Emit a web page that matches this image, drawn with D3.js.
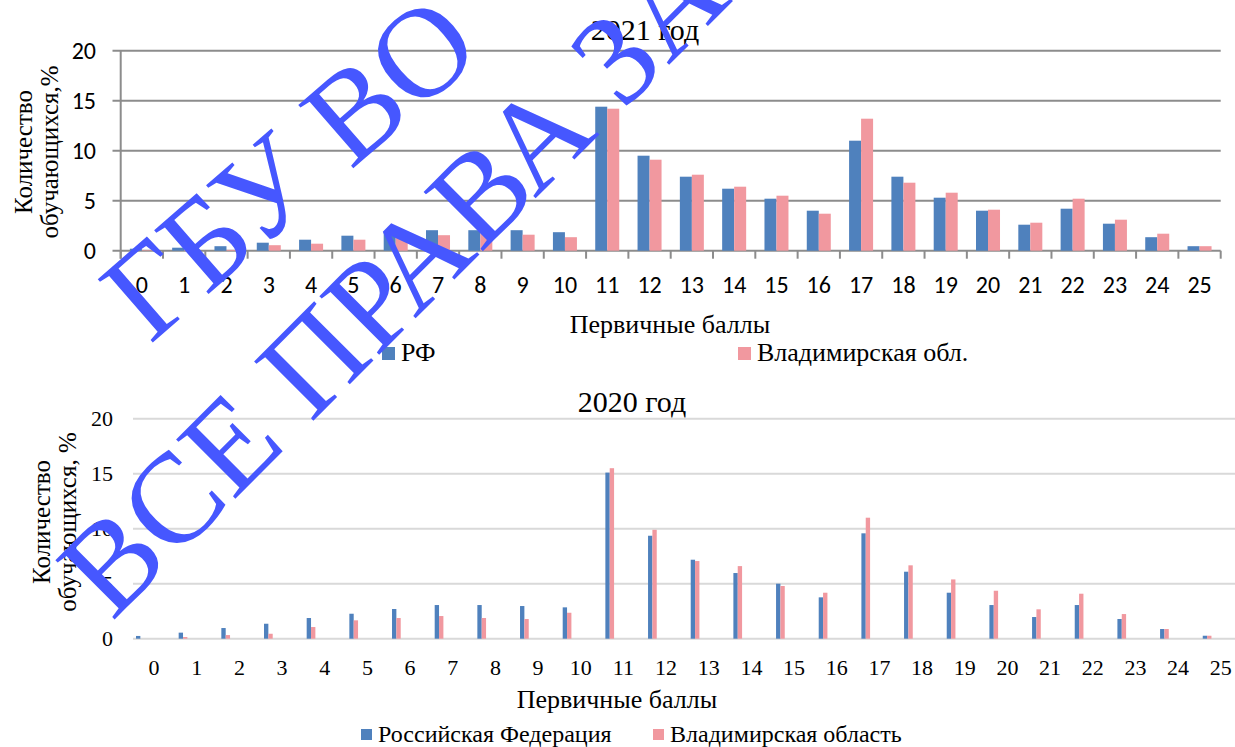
<!DOCTYPE html>
<html><head><meta charset="utf-8">
<script src="https://cdn.jsdelivr.net/npm/d3@7"></script>
<style>
html,body{margin:0;padding:0;background:#fff;}
svg{display:block;}
</style></head>
<body>
<script>
const scores = ["0","1","2","3","4","5","6","7","8","9","10","11","12","13","14","15","16","17","18","19","20","21","22","23","24","25"];
const yTicks = [0,5,10,15,20];
const rf2021 = [0.2,0.3,0.45,0.8,1.1,1.5,1.8,2.05,2.05,2.05,1.85,14.4,9.5,7.4,6.2,5.2,4.0,11.0,7.4,5.3,4.0,2.6,4.2,2.7,1.35,0.45];
const vl2021 = [0.05,0.05,0.08,0.55,0.7,1.1,1.5,1.55,1.75,1.6,1.35,14.2,9.1,7.6,6.4,5.5,3.7,13.2,6.8,5.8,4.1,2.8,5.2,3.1,1.7,0.45];
const rf2020 = [0.25,0.55,0.97,1.36,1.88,2.27,2.7,3.06,3.06,2.97,2.85,15.1,9.36,7.18,5.97,5.0,3.76,9.58,6.09,4.18,3.06,1.97,3.06,1.79,0.88,0.27];
const vl2020 = [0,0.15,0.33,0.45,1.06,1.67,1.88,2.06,1.88,1.79,2.36,15.5,9.9,7.06,6.6,4.79,4.18,11.0,6.67,5.39,4.36,2.67,4.09,2.24,0.88,0.27];
const titles = ["2021 год","2020 год"];
const legend2021 = ["РФ","Владимирская обл."];
const legend2020 = ["Российская Федерация","Владимирская область"];
const xTitle = "Первичные баллы";
const yTitle2021 = ["Количество","обучающихся,%"];
const yTitle2020 = ["Количество","обучающихся, %"];
const watermark = ["ГБУ ВО","ВСЕ ПРАВА ЗАЩИЩЕНЫ"];

const BLUE = "#4F81BD", PINK = "#F1989F";
const SERIF = "Liberation Serif";
const SANS = "Carlito";

const W = 1235, H = 747;
const svg = d3.select("body").append("svg").attr("width",W).attr("height",H);
svg.append("rect").attr("width",W).attr("height",H).attr("fill","#fff");

function txt(sel, fam, size){ return sel.style("font-family",fam).style("font-size",size+"px"); }

/* ---------- Chart 1: 2021 ---------- */
{
  const g = svg.append("g");
  const x = d3.scaleBand().domain(scores).range([120.7,1220.7]).padding(0);
  const y = d3.scaleLinear().domain([0,20]).range([250.7,50.7]);
  const inner = d3.scaleBand().domain(["rf","vl"]).range([-12,12]);
  g.append("g").selectAll("line").data(yTicks).join("line")
    .attr("x1",112.5).attr("x2",1220.7)
    .attr("y1",d=>y(d)).attr("y2",d=>y(d))
    .attr("stroke","#8c8c8c").attr("stroke-width",2);
  g.append("line").attr("x1",120.7).attr("x2",120.7).attr("y1",y(20)).attr("y2",y(0)+8)
    .attr("stroke","#8c8c8c").attr("stroke-width",2);
  const bounds = scores.map(s=>x(s)).concat([x(scores[scores.length-1])+x.bandwidth()]);
  g.append("g").selectAll("line").data(bounds).join("line")
    .attr("x1",d=>d).attr("x2",d=>d).attr("y1",y(0)).attr("y2",y(0)+8)
    .attr("stroke","#8c8c8c").attr("stroke-width",2);
  const series = [{k:"rf",v:rf2021,c:BLUE},{k:"vl",v:vl2021,c:PINK}];
  series.forEach(s=>{
    g.append("g").selectAll("rect").data(s.v).join("rect")
      .attr("x",(d,i)=>x(scores[i])+x.bandwidth()/2+inner(s.k))
      .attr("width",inner.bandwidth())
      .attr("y",d=>y(d)).attr("height",d=>y(0)-y(d))
      .attr("fill",s.c);
  });
  txt(g.append("g").selectAll("text").data(yTicks).join("text"), SANS, 24)
    .attr("x",96).attr("y",d=>y(d)).attr("dy","0.35em")
    .attr("text-anchor","end").text(d=>d);
  txt(g.append("g").selectAll("text").data(scores).join("text"), SANS, 24)
    .attr("x",d=>x(d)+x.bandwidth()/2).attr("y",293)
    .attr("text-anchor","middle").text(d=>d);
  txt(g.append("text"), SERIF, 30).attr("x",645).attr("y",40).attr("text-anchor","middle").text(titles[0]);
  txt(g.append("text"), SERIF, 26).attr("x",670).attr("y",333).attr("text-anchor","middle").text(xTitle);
  const yt = txt(g.append("text"), SERIF, 25).attr("transform","translate(0,152) rotate(-90)")
    .attr("text-anchor","middle");
  yt.append("tspan").attr("x",0).attr("y",32).text(yTitle2021[0]);
  yt.append("tspan").attr("x",0).attr("y",58).text(yTitle2021[1]);
  const lg = [{x:382,c:BLUE,t:legend2021[0]},{x:738,c:PINK,t:legend2021[1]}];
  lg.forEach(l=>{
    g.append("rect").attr("x",l.x).attr("y",347).attr("width",13).attr("height",13).attr("fill",l.c);
    txt(g.append("text"), SERIF, 26).attr("x",l.x+19).attr("y",361).text(l.t);
  });
}

/* ---------- Chart 2: 2020 ---------- */
{
  const g = svg.append("g");
  const x = d3.scaleBand().domain(scores).range([132.7,132.7+26*42.67]).padding(0);
  const y = d3.scaleLinear().domain([0,20]).range([638.7,418.7]);
  const inner = d3.scaleBand().domain(["rf","vl"]).range([3.3,12]);
  g.append("g").selectAll("line").data(yTicks).join("line")
    .attr("x1",133).attr("x2",W)
    .attr("y1",d=>y(d)).attr("y2",d=>y(d))
    .attr("stroke","#d9d9d9").attr("stroke-width",2);
  const series = [{k:"rf",v:rf2020,c:BLUE},{k:"vl",v:vl2020,c:PINK}];
  series.forEach(s=>{
    g.append("g").selectAll("rect").data(s.v).join("rect")
      .attr("x",(d,i)=>x(scores[i])+inner(s.k))
      .attr("width",inner.bandwidth())
      .attr("y",d=>y(d)).attr("height",d=>y(0)-y(d))
      .attr("fill",s.c);
  });
  txt(g.append("g").selectAll("text").data(yTicks).join("text"), SERIF, 22)
    .attr("x",113).attr("y",d=>y(d)).attr("dy","0.35em")
    .attr("text-anchor","end").text(d=>d);
  txt(g.append("g").selectAll("text").data(scores).join("text"), SERIF, 22)
    .attr("x",d=>x(d)+x.bandwidth()/2).attr("y",675)
    .attr("text-anchor","middle").text(d=>d);
  txt(g.append("text"), SERIF, 30).attr("x",632).attr("y",412).attr("text-anchor","middle").text(titles[1]);
  txt(g.append("text"), SERIF, 26).attr("x",617).attr("y",708).attr("text-anchor","middle").text(xTitle);
  const yt = txt(g.append("text"), SERIF, 25).attr("transform","translate(0,522) rotate(-90)")
    .attr("text-anchor","middle");
  yt.append("tspan").attr("x",0).attr("y",50).text(yTitle2020[0]);
  yt.append("tspan").attr("x",0).attr("y",76).text(yTitle2020[1]);
  const lg = [{x:361,c:BLUE,t:legend2020[0]},{x:653,c:PINK,t:legend2020[1]}];
  lg.forEach(l=>{
    g.append("rect").attr("x",l.x).attr("y",729).attr("width",11).attr("height",11).attr("fill",l.c);
    txt(g.append("text"), SERIF, 24).attr("x",l.x+17).attr("y",742).text(l.t);
  });
}

/* ---------- Watermark ---------- */
{
  const wm = svg.append("g").attr("fill","#4657FF");
  txt(wm.append("text"), SERIF, 128).attr("transform","translate(150,345) rotate(-41)").text(watermark[0]);
  txt(wm.append("text"), SERIF, 128).attr("transform","translate(112,622) rotate(-45)").text(watermark[1]);
}
</script>
</body></html>
